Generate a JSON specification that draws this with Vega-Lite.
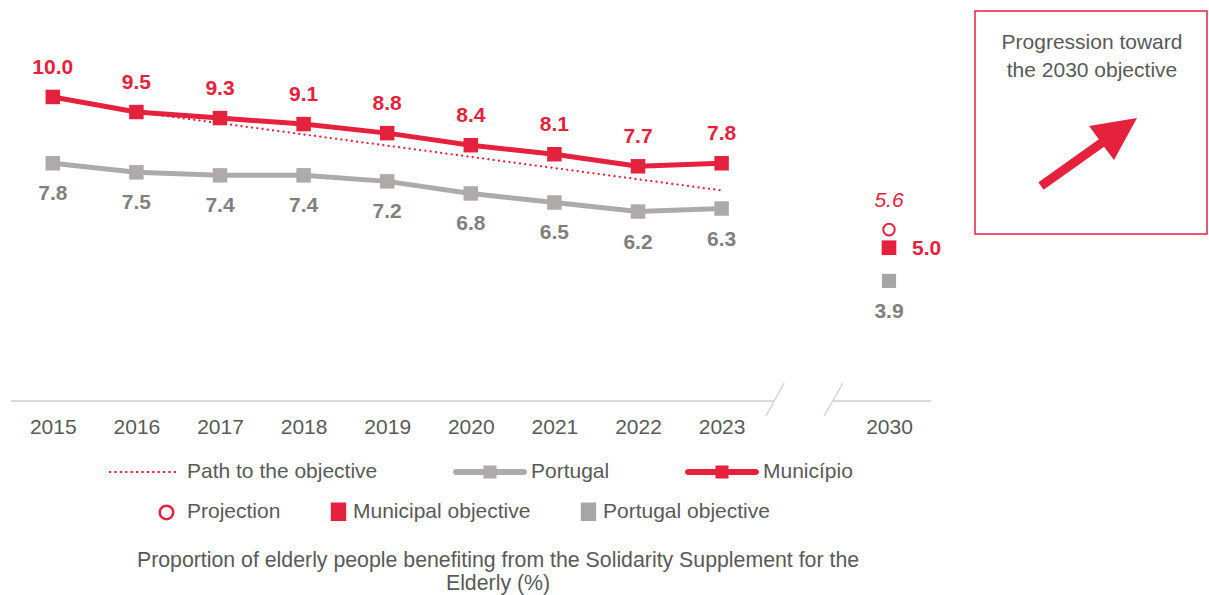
{
  "$schema": "https://vega.github.io/schema/vega-lite/v6.json",
  "padding": {"left": 10, "top": 10, "right": 0, "bottom": 0},
  "autosize": {"type": "pad"},
  "background": "white",
  "spacing": 44,
  "bounds": "flush",
  "config": {
    "view": {"stroke": null},
    "font": "Liberation Sans",
    "legend": {"labelFont": "Liberation Sans", "labelFontSize": 21, "labelColor": "#595959", "title": null, "labelLimit": 400}
  },
  "datasets": {
    "series": [
      {"year": 2015, "series": "Município", "value": 10.0},
      {"year": 2016, "series": "Município", "value": 9.5},
      {"year": 2017, "series": "Município", "value": 9.3},
      {"year": 2018, "series": "Município", "value": 9.1},
      {"year": 2019, "series": "Município", "value": 8.8},
      {"year": 2020, "series": "Município", "value": 8.4},
      {"year": 2021, "series": "Município", "value": 8.1},
      {"year": 2022, "series": "Município", "value": 7.7},
      {"year": 2023, "series": "Município", "value": 7.8},
      {"year": 2015, "series": "Portugal", "value": 7.8},
      {"year": 2016, "series": "Portugal", "value": 7.5},
      {"year": 2017, "series": "Portugal", "value": 7.4},
      {"year": 2018, "series": "Portugal", "value": 7.4},
      {"year": 2019, "series": "Portugal", "value": 7.2},
      {"year": 2020, "series": "Portugal", "value": 6.8},
      {"year": 2021, "series": "Portugal", "value": 6.5},
      {"year": 2022, "series": "Portugal", "value": 6.2},
      {"year": 2023, "series": "Portugal", "value": 6.3},
      {"year": 2016, "series": "Path to the objective", "value": 9.5},
      {"year": 2023, "series": "Path to the objective", "value": 6.9}
    ],
    "targets": [
      {"year": 2030, "kind": "Projection", "value": 5.6},
      {"year": 2030, "kind": "Municipal objective", "value": 5.0},
      {"year": 2030, "kind": "Portugal objective", "value": 3.9}
    ],
    "baseline": [
      {"from": 2014.5, "to": 2024.28},
      {"from": 2028.5, "to": 2030.5}
    ],
    "breaks": [
      {"x1": 2024.98, "x2": 2023.69, "y1": 0.51, "y2": -0.58},
      {"x1": 2029.21, "x2": 2027.85, "y1": 0.51, "y2": -0.58}
    ]
  },
  "hconcat": [
    {
      "width": 920,
      "height": 389,
      "title": {
        "text": ["Proportion of elderly people benefiting from the Solidarity Supplement for the", "Elderly (%)"],
        "orient": "bottom", "anchor": "middle", "dx": 27, "offset": 113,
        "fontSize": 21.3, "fontWeight": "normal", "color": "#595959", "font": "Liberation Sans", "lineHeight": 23
      },
      "layer": [
        {
          "data": {"name": "baseline"},
          "mark": {"type": "rule", "color": "#D9D9D9", "strokeWidth": 2},
          "encoding": {
            "x": {"field": "from", "type": "quantitative", "scale": {"domain": [2014.5, 2023.5, 2029.5, 2030.5], "range": [0, 752.4, 836, 920], "nice": false, "zero": false},
              "axis": {"values": [2015, 2016, 2017, 2018, 2019, 2020, 2021, 2022, 2023, 2030], "format": "d", "title": null, "domain": false, "ticks": false, "grid": false, "labelFontSize": 21, "labelColor": "#595959", "labelFont": "Liberation Sans", "labelPadding": 16, "labelFlush": false, "labelOverlap": false}},
            "x2": {"field": "to"},
            "y": {"datum": -0.08, "type": "quantitative", "scale": {"domain": [-0.05, 12.85], "nice": false, "zero": false}, "axis": null}
          }
        },
        {
          "data": {"name": "breaks"},
          "mark": {"type": "rule", "color": "#D6D6D6", "strokeWidth": 1.5},
          "encoding": {
            "x": {"field": "x1", "type": "quantitative",
              "axis": {"values": [2015, 2016, 2017, 2018, 2019, 2020, 2021, 2022, 2023, 2030], "format": "d", "title": null, "domain": false, "ticks": false, "grid": false, "labelFontSize": 21, "labelColor": "#595959", "labelFont": "Liberation Sans", "labelPadding": 16, "labelFlush": false, "labelOverlap": false}},
            "x2": {"field": "x2"},
            "y": {"field": "y1", "type": "quantitative"},
            "y2": {"field": "y2"}
          }
        },
        {
          "data": {"name": "series"},
          "transform": [{"filter": "datum.series === 'Path to the objective'"}],
          "mark": {"type": "line", "color": "#E5223D", "strokeWidth": 2.2, "strokeDash": [0.1, 5.2], "strokeCap": "round"},
          "encoding": {
            "x": {"field": "year", "type": "quantitative",
              "axis": {"values": [2015, 2016, 2017, 2018, 2019, 2020, 2021, 2022, 2023, 2030], "format": "d", "title": null, "domain": false, "ticks": false, "grid": false, "labelFontSize": 21, "labelColor": "#595959", "labelFont": "Liberation Sans", "labelPadding": 16, "labelFlush": false, "labelOverlap": false}},
            "y": {"field": "value", "type": "quantitative"}
          }
        },
        {
          "data": {"name": "series"},
          "transform": [{"filter": "datum.series !== 'Path to the objective'"}],
          "mark": {"type": "line", "strokeWidth": 5, "strokeJoin": "round"},
          "encoding": {
            "x": {"field": "year", "type": "quantitative"},
            "y": {"field": "value", "type": "quantitative"},
            "color": {
              "field": "series", "type": "nominal",
              "scale": {"domain": ["Path to the objective", "Portugal", "Município"], "range": ["#E5223D", "#AEAAAA", "#E5223D"]},
              "legend": {
                "orient": "none", "legendX": 98, "legendY": 424, "direction": "horizontal",
                "symbolSize": 5476, "labelOffset": 4, "columnPadding": 75, "title": null,
                "encode": {"symbols": {"update": {
                  "shape": {"signal": "datum.value === 'Path to the objective' ? 'M-1,-0.03h0.06v0.06h-0.06ZM-0.854,-0.03h0.06v0.06h-0.06ZM-0.708,-0.03h0.06v0.06h-0.06ZM-0.562,-0.03h0.06v0.06h-0.06ZM-0.416,-0.03h0.06v0.06h-0.06ZM-0.27,-0.03h0.06v0.06h-0.06ZM-0.124,-0.03h0.06v0.06h-0.06ZM0.022,-0.03h0.06v0.06h-0.06ZM0.168,-0.03h0.06v0.06h-0.06ZM0.314,-0.03h0.06v0.06h-0.06ZM0.46,-0.03h0.06v0.06h-0.06ZM0.606,-0.03h0.06v0.06h-0.06ZM0.752,-0.03h0.06v0.06h-0.06Z' : 'M-0.919,-0.081H-0.176V-0.176H0.176V-0.081H0.919A0.081,0.081,0,0,1,0.919,0.081H0.176V0.176H-0.176V0.081H-0.919A0.081,0.081,0,0,1,-0.919,-0.081Z'"},
                  "fill": {"signal": "datum.value === 'Portugal' ? '#AEAAAA' : '#E5223D'"},
                  "stroke": {"value": "transparent"},
                  "strokeWidth": {"value": 0},
                  "opacity": {"value": 1}
                }}}
              }
            }
          }
        },
        {
          "data": {"name": "series"},
          "transform": [{"filter": "datum.series !== 'Path to the objective'"}],
          "mark": {"type": "point", "shape": "square", "filled": true, "size": 210, "opacity": 1},
          "encoding": {
            "x": {"field": "year", "type": "quantitative"},
            "y": {"field": "value", "type": "quantitative"},
            "color": {"field": "series", "type": "nominal", "legend": null}
          }
        },
        {
          "data": {"name": "series"},
          "transform": [{"filter": "datum.series === 'Município'"}],
          "mark": {"type": "text", "fontSize": 21, "fontWeight": "bold", "color": "#E5223D", "dy": -29, "baseline": "middle"},
          "encoding": {
            "x": {"field": "year", "type": "quantitative"},
            "y": {"field": "value", "type": "quantitative"},
            "text": {"field": "value", "type": "quantitative", "format": ".1f"}
          }
        },
        {
          "data": {"name": "series"},
          "transform": [{"filter": "datum.series === 'Portugal'"}],
          "mark": {"type": "text", "fontSize": 21, "fontWeight": "bold", "color": "#7F7F7F", "dy": 31, "baseline": "middle"},
          "encoding": {
            "x": {"field": "year", "type": "quantitative"},
            "y": {"field": "value", "type": "quantitative"},
            "text": {"field": "value", "type": "quantitative", "format": ".1f"}
          }
        },
        {
          "data": {"name": "targets"},
          "mark": {"type": "point", "filled": true, "size": 16, "strokeWidth": 2.5, "opacity": 1},
          "encoding": {
            "x": {"field": "year", "type": "quantitative"},
            "y": {"field": "value", "type": "quantitative"},
            "shape": {
              "field": "kind", "type": "nominal",
              "scale": {"domain": ["Projection", "Municipal objective", "Portugal objective"], "range": ["M-0.896,0A0.5625,0.5625,0,1,0,0.229,0A0.5625,0.5625,0,1,0,-0.896,0Z", "M-0.37,-0.66H0.7V0.66H-0.37Z", "M-0.37,-0.66H0.7V0.66H-0.37Z"]},
              "legend": {
                "orient": "none", "legendX": 146, "legendY": 487, "direction": "horizontal",
                "symbolSize": 576, "symbolStrokeWidth": 2.5, "labelOffset": 3, "columnPadding": 42, "title": null,
                "encode": {"symbols": {
                  "fill": {"condition": [{"test": "datum.value === 'Projection'", "value": "white"}, {"test": "datum.value === 'Municipal objective'", "value": "#E5223D"}], "value": "#A6A6A6"},
                  "stroke": {"condition": [{"test": "datum.value === 'Portugal objective'", "value": "#A6A6A6"}], "value": "#E5223D"},
                  "opacity": {"value": 1}
                }}
              }
            },
            "fill": {"field": "kind", "type": "nominal", "scale": {"domain": ["Projection", "Municipal objective", "Portugal objective"], "range": ["white", "#E5223D", "#A6A6A6"]}, "legend": null},
            "stroke": {"field": "kind", "type": "nominal", "scale": {"domain": ["Projection", "Municipal objective", "Portugal objective"], "range": ["#E5223D", "#E5223D", "#A6A6A6"]}, "legend": null}
          }
        },
        {
          "data": {"name": "targets"},
          "transform": [{"filter": "datum.kind === 'Projection'"}],
          "mark": {"type": "point", "shape": "circle", "filled": true, "fill": "white", "stroke": "#E5223D", "strokeWidth": 2, "size": 133, "opacity": 1},
          "encoding": {
            "x": {"field": "year", "type": "quantitative"},
            "y": {"field": "value", "type": "quantitative"}
          }
        },
        {
          "data": {"name": "targets"},
          "transform": [{"filter": "datum.kind === 'Municipal objective'"}],
          "mark": {"type": "point", "shape": "square", "filled": true, "color": "#E5223D", "size": 215, "opacity": 1},
          "encoding": {
            "x": {"field": "year", "type": "quantitative"},
            "y": {"field": "value", "type": "quantitative"}
          }
        },
        {
          "data": {"name": "targets"},
          "transform": [{"filter": "datum.kind === 'Portugal objective'"}],
          "mark": {"type": "point", "shape": "square", "filled": true, "color": "#A6A6A6", "size": 200, "opacity": 1},
          "encoding": {
            "x": {"field": "year", "type": "quantitative"},
            "y": {"field": "value", "type": "quantitative"}
          }
        },
        {
          "data": {"name": "targets"},
          "transform": [{"filter": "datum.kind === 'Projection'"}],
          "mark": {"type": "text", "fontSize": 21, "fontStyle": "italic", "color": "#E5223D", "dy": -29, "baseline": "middle"},
          "encoding": {
            "x": {"field": "year", "type": "quantitative"},
            "y": {"field": "value", "type": "quantitative"},
            "text": {"field": "value", "type": "quantitative", "format": ".1f"}
          }
        },
        {
          "data": {"name": "targets"},
          "transform": [{"filter": "datum.kind === 'Municipal objective'"}],
          "mark": {"type": "text", "fontSize": 21, "fontWeight": "bold", "color": "#E5223D", "dx": 23, "dy": 1, "align": "left", "baseline": "middle"},
          "encoding": {
            "x": {"field": "year", "type": "quantitative"},
            "y": {"field": "value", "type": "quantitative"},
            "text": {"field": "value", "type": "quantitative", "format": ".1f"}
          }
        },
        {
          "data": {"name": "targets"},
          "transform": [{"filter": "datum.kind === 'Portugal objective'"}],
          "mark": {"type": "text", "fontSize": 21, "fontWeight": "bold", "color": "#7F7F7F", "dy": 31, "baseline": "middle"},
          "encoding": {
            "x": {"field": "year", "type": "quantitative"},
            "y": {"field": "value", "type": "quantitative"},
            "text": {"field": "value", "type": "quantitative", "format": ".1f"}
          }
        }
      ]
    },
    {
      "width": 232,
      "height": 223,
      "view": {"stroke": "#E5223D", "strokeWidth": 1.5},
      "data": {"values": [{"box": "Progression toward the 2030 objective"}]},
      "layer": [
        {
          "mark": {"type": "text", "text": ["Progression toward", "the 2030 objective"], "fontSize": 21, "color": "#595959", "align": "center", "baseline": "alphabetic", "lineHeight": 28, "font": "Liberation Sans"},
          "encoding": {
            "x": {"datum": 117, "type": "quantitative", "scale": {"domain": [0, 232], "nice": false, "zero": false}, "axis": null},
            "y": {"datum": 38, "type": "quantitative", "scale": {"domain": [223, 0], "nice": false, "zero": false}, "axis": null}
          }
        },
        {
          "mark": {"type": "point", "shape": "M-0.992,0.566L0.218,-0.294L0.02,-0.56L0.98,-0.72L0.52,0.12L0.322,-0.146L-0.888,0.714Z", "size": 10000, "filled": true, "color": "#E5223D", "opacity": 1},
          "encoding": {
            "x": {"datum": 113, "type": "quantitative"},
            "y": {"datum": 143, "type": "quantitative"}
          }
        }
      ]
    }
  ]
}
